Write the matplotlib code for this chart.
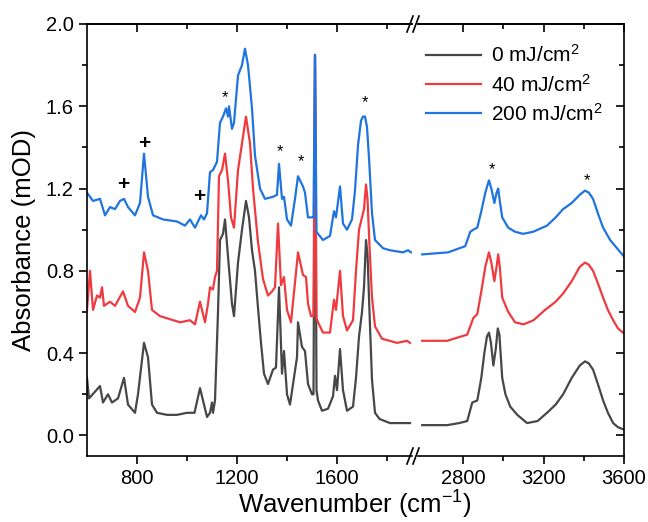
import numpy as np
import matplotlib
matplotlib.use("Agg")
import matplotlib.pyplot as plt
from matplotlib.ticker import FixedLocator, MultipleLocator
from matplotlib.lines import Line2D

plt.rcParams['font.family'] = ['Liberation Sans', 'DejaVu Sans']
plt.rcParams['mathtext.default'] = 'regular'

# 0 mJ/cm2, fingerprint region
wn0_l = [600, 608, 652, 664, 684, 700, 724, 748, 764, 792, 804, 828, 844, 860, 880,
         920, 960, 1000, 1030, 1052, 1080, 1092, 1100, 1104, 1112, 1124, 1132, 1144, 1152,
         1164, 1180, 1188, 1204, 1220, 1236, 1248, 1260, 1272, 1284, 1296, 1308, 1324,
         1344, 1356, 1368, 1380, 1388, 1400, 1412, 1440, 1444, 1460, 1472, 1484, 1500,
         1506, 1512, 1518, 1524, 1540, 1564, 1584, 1592, 1600, 1612, 1624, 1640, 1664,
         1676, 1688, 1700, 1708, 1716, 1722, 1730, 1740, 1752, 1770, 1812, 1864, 1892]
ab0_l = [0.28, 0.18, 0.24, 0.16, 0.20, 0.16, 0.18, 0.28, 0.15, 0.11, 0.20, 0.45, 0.38, 0.15, 0.11,
         0.10, 0.10, 0.11, 0.11, 0.23, 0.09, 0.11, 0.16, 0.11, 0.17, 0.60, 0.95, 0.98, 1.05,
         0.87, 0.64, 0.58, 0.84, 1.00, 1.14, 1.06, 0.90, 0.80, 0.62, 0.45, 0.30, 0.25,
         0.32, 0.33, 0.72, 0.30, 0.41, 0.20, 0.15, 0.38, 0.55, 0.43, 0.41, 0.25, 0.20,
         0.20, 1.85, 0.22, 0.17, 0.12, 0.13, 0.19, 0.29, 0.22, 0.42, 0.22, 0.12, 0.14,
         0.28, 0.48, 0.60, 0.72, 0.95, 0.88, 0.60, 0.27, 0.11, 0.08, 0.06, 0.06, 0.06]

# 0 mJ/cm2, C-H / O-H region
wn0_r = [2596, 2650, 2720, 2780, 2820, 2845, 2870, 2890, 2905, 2918, 2928, 2938, 2950,
         2962, 2972, 2980, 2994, 3010, 3034, 3069, 3118, 3170, 3217, 3260, 3297, 3340,
         3380, 3406, 3425, 3446, 3470, 3496, 3520, 3546, 3570, 3595]
ab0_r = [0.05, 0.05, 0.05, 0.06, 0.07, 0.16, 0.17, 0.28, 0.40, 0.48, 0.50, 0.45, 0.34,
         0.42, 0.52, 0.49, 0.28, 0.20, 0.14, 0.10, 0.06, 0.07, 0.11, 0.15, 0.20, 0.28,
         0.34, 0.36, 0.35, 0.32, 0.25, 0.17, 0.11, 0.06, 0.04, 0.03]

# 40 mJ/cm2
wn40_l = [600, 612, 624, 640, 652, 660, 668, 692, 712, 744, 764, 792, 812, 828, 844, 860,
          892, 972, 1012, 1032, 1052, 1072, 1084, 1092, 1104, 1112, 1120, 1128, 1140, 1152,
          1164, 1176, 1188, 1204, 1220, 1236, 1252, 1264, 1284, 1304, 1324, 1340, 1352,
          1364, 1376, 1388, 1400, 1416, 1440, 1444, 1464, 1476, 1484, 1496, 1506, 1512,
          1518, 1524, 1544, 1572, 1588, 1596, 1612, 1624, 1640, 1664, 1676, 1688, 1700,
          1708, 1716, 1722, 1730, 1740, 1752, 1780, 1840, 1880, 1892]
ab40_l = [0.61, 0.80, 0.61, 0.68, 0.67, 0.72, 0.63, 0.65, 0.63, 0.70, 0.63, 0.60, 0.67, 0.89, 0.80, 0.61,
          0.58, 0.55, 0.56, 0.54, 0.65, 0.55, 0.64, 0.72, 0.71, 0.77, 0.80, 1.26, 1.29, 1.37,
          1.24, 1.06, 1.01, 1.29, 1.42, 1.55, 1.42, 1.20, 0.94, 0.76, 0.68, 0.70, 0.72,
          1.03, 0.73, 0.77, 0.61, 0.55, 0.84, 0.89, 0.78, 0.77, 0.64, 0.58, 0.58, 1.85,
          0.57, 0.55, 0.50, 0.50, 0.66, 0.61, 0.80, 0.58, 0.51, 0.56, 0.80, 1.00, 1.06,
          1.10, 1.22, 1.15, 0.92, 0.67, 0.53, 0.47, 0.45, 0.46, 0.45]

wn40_r = [2596, 2720, 2820, 2850, 2870, 2890, 2910, 2928, 2940, 2955, 2966, 2974, 2982,
          2994, 3024, 3058, 3100, 3150, 3207, 3260, 3297, 3340, 3380, 3406, 3425, 3446,
          3470, 3496, 3520, 3546, 3570, 3595]
ab40_r = [0.46, 0.46, 0.49, 0.57, 0.59, 0.70, 0.82, 0.89, 0.84, 0.75, 0.82, 0.88, 0.82,
          0.67, 0.60, 0.55, 0.54, 0.56, 0.61, 0.65, 0.69, 0.75, 0.82, 0.84, 0.83, 0.80,
          0.74, 0.67, 0.61, 0.56, 0.52, 0.50]

# 200 mJ/cm2
wn200_l = [600, 624, 652, 672, 692, 712, 732, 748, 764, 792, 812, 828, 844, 864, 904, 960,
           992, 1012, 1032, 1056, 1068, 1080, 1092, 1104, 1120, 1132, 1144, 1156, 1164,
           1168, 1180, 1188, 1204, 1220, 1232, 1244, 1260, 1272, 1292, 1312, 1344, 1360,
           1368, 1380, 1388, 1400, 1416, 1432, 1444, 1464, 1472, 1484, 1500, 1506, 1512,
           1518, 1524, 1544, 1572, 1588, 1596, 1612, 1624, 1640, 1660, 1672, 1684, 1696,
           1704, 1712, 1720, 1728, 1740, 1752, 1784, 1812, 1864, 1884, 1896]
ab200_l = [1.18, 1.14, 1.15, 1.07, 1.11, 1.10, 1.14, 1.15, 1.11, 1.07, 1.13, 1.37, 1.16, 1.07, 1.05, 1.04,
           1.02, 1.05, 1.01, 1.07, 1.05, 1.08, 1.28, 1.29, 1.33, 1.52, 1.55, 1.59, 1.55,
           1.60, 1.49, 1.52, 1.75, 1.80, 1.88, 1.80, 1.59, 1.36, 1.20, 1.15, 1.16, 1.17,
           1.32, 1.15, 1.16, 1.05, 1.02, 1.15, 1.26, 1.21, 1.18, 1.06, 1.06, 1.06, 1.85,
           0.99, 0.98, 0.95, 0.97, 1.09, 1.06, 1.21, 1.03, 1.00, 1.05, 1.19, 1.41, 1.53,
           1.55, 1.55, 1.50, 1.35, 1.08, 0.95, 0.91, 0.90, 0.89, 0.90, 0.89]

wn200_r = [2596, 2725, 2810, 2835, 2850, 2870, 2890, 2910, 2928, 2940, 2955, 2966, 2974,
           2982, 2994, 3024, 3058, 3098, 3148, 3217, 3260, 3297, 3340, 3380, 3406, 3425,
           3446, 3470, 3496, 3531, 3565, 3600]
ab200_r = [0.88, 0.89, 0.92, 0.99, 1.00, 1.01, 1.09, 1.18, 1.24, 1.20, 1.13, 1.18, 1.20,
           1.14, 1.06, 1.01, 0.99, 0.98, 0.99, 1.02, 1.06, 1.10, 1.13, 1.17, 1.19, 1.18,
           1.15, 1.08, 1.01, 0.95, 0.91, 0.87]

labels = ['0 mJ/cm$^2$', '40 mJ/cm$^2$', '200 mJ/cm$^2$']
colors = ['#474747', '#ef3b3f', '#1f74e0']

# band markers: (wavenumber, height, symbol)
marks_l = [(744, 1.22, '+'), (828, 1.42, '+'), (1048, 1.16, '+'), (1152, 1.64, '*'),
           (1372, 1.38, '*'), (1456, 1.33, '*'), (1712, 1.62, '*')]
marks_r = [(2944, 1.29, '*'), (3416, 1.24, '*')]

W, H = 648, 522
fig = plt.figure(figsize=(W / 100, H / 100), dpi=100)
ax1 = fig.add_axes([87 / W, 66 / H, 325 / W, 432 / H])
ax2 = fig.add_axes([418 / W, 66 / H, 206 / W, 432 / H])

series = [(wn0_l, ab0_l, wn0_r, ab0_r), (wn40_l, ab40_l, wn40_r, ab40_r),
          (wn200_l, ab200_l, wn200_r, ab200_r)]
for (xl, yl, xr, yr), c, lab in zip(series, colors, labels):
    ax1.plot(xl, yl, color=c, lw=1.6)
    ax2.plot(xr, yr, color=c, lw=1.6, label=lab)

for ax, marks in ((ax1, marks_l), (ax2, marks_r)):
    for x, y, s in marks:
        if s == '+':
            ax.text(x, y, s, ha='center', va='center', fontsize=15, fontweight='bold')
        else:
            ax.text(x, y, s, ha='center', va='center', fontsize=12)

ax1.set_xlim(600, 1900)
ax2.set_xlim(2575, 3600)
for ax in (ax1, ax2):
    ax.set_ylim(-0.1, 2.0)
    for sp in ax.spines.values():
        sp.set_linewidth(1.2)

ax1.xaxis.set_major_locator(FixedLocator([800, 1200, 1600]))
ax1.xaxis.set_minor_locator(FixedLocator([1000, 1400, 1800]))
ax2.xaxis.set_major_locator(FixedLocator([2800, 3200, 3600]))
ax2.xaxis.set_minor_locator(FixedLocator([3000, 3400]))
ax1.yaxis.set_major_locator(MultipleLocator(0.4))
ax1.yaxis.set_minor_locator(MultipleLocator(0.2))
ax2.yaxis.set_major_locator(MultipleLocator(0.4))
ax2.yaxis.set_minor_locator(MultipleLocator(0.2))
ax1.yaxis.set_major_formatter(plt.FuncFormatter(lambda v, p: f'{v:.1f}'))

ax1.spines['right'].set_visible(False)
ax2.spines['left'].set_visible(False)
ax1.tick_params(axis='x', which='both', direction='out', top=False, labelsize=14.5)
ax2.tick_params(axis='x', which='both', direction='out', top=False, labelsize=14.5)
ax1.tick_params(axis='y', which='both', direction='out', labelsize=14.5)
ax1.tick_params(which='major', length=6, width=1.2)
ax1.tick_params(which='minor', length=3.5, width=1.2)
ax2.tick_params(axis='y', which='both', left=False, right=True, labelleft=False,
                direction='in')
ax2.tick_params(which='major', length=6, width=1.2)
ax2.tick_params(which='minor', length=3.5, width=1.2)

# inward ticks along the top edge
for ax in (ax1, ax2):
    top = ax.secondary_xaxis('top')
    top.xaxis.set_major_locator(ax.xaxis.get_major_locator())
    top.xaxis.set_minor_locator(ax.xaxis.get_minor_locator())
    top.tick_params(which='both', direction='in', labeltop=False, width=1.2)
    top.tick_params(which='major', length=6)
    top.tick_params(which='minor', length=3.5)
    top.spines['top'].set_linewidth(1.2)

# axis break marks
for yp in (24, 456):
    for x0 in (407, 413):
        fig.add_artist(Line2D([x0 / W, (x0 + 6) / W], [1 - (yp + 8) / H, 1 - (yp - 8) / H],
                              color='black', lw=1.2))

fig.text(24 / W, 1 - 240 / H, 'Absorbance (mOD)', rotation=90, ha='center', va='center',
         fontsize=18.5)
fig.text(355 / W, 1 - 505 / H, 'Wavenumber (cm$^{-1}$)', ha='center', va='center',
         fontsize=18.5)

fig.legend(*ax2.get_legend_handles_labels(), loc='upper left',
           bbox_to_anchor=(418 / W, 1 - 36 / H), frameon=False, fontsize=15,
           handlelength=2.6, handletextpad=0.5, labelspacing=0.35, borderaxespad=0)

fig.savefig('out.png', dpi=100)
